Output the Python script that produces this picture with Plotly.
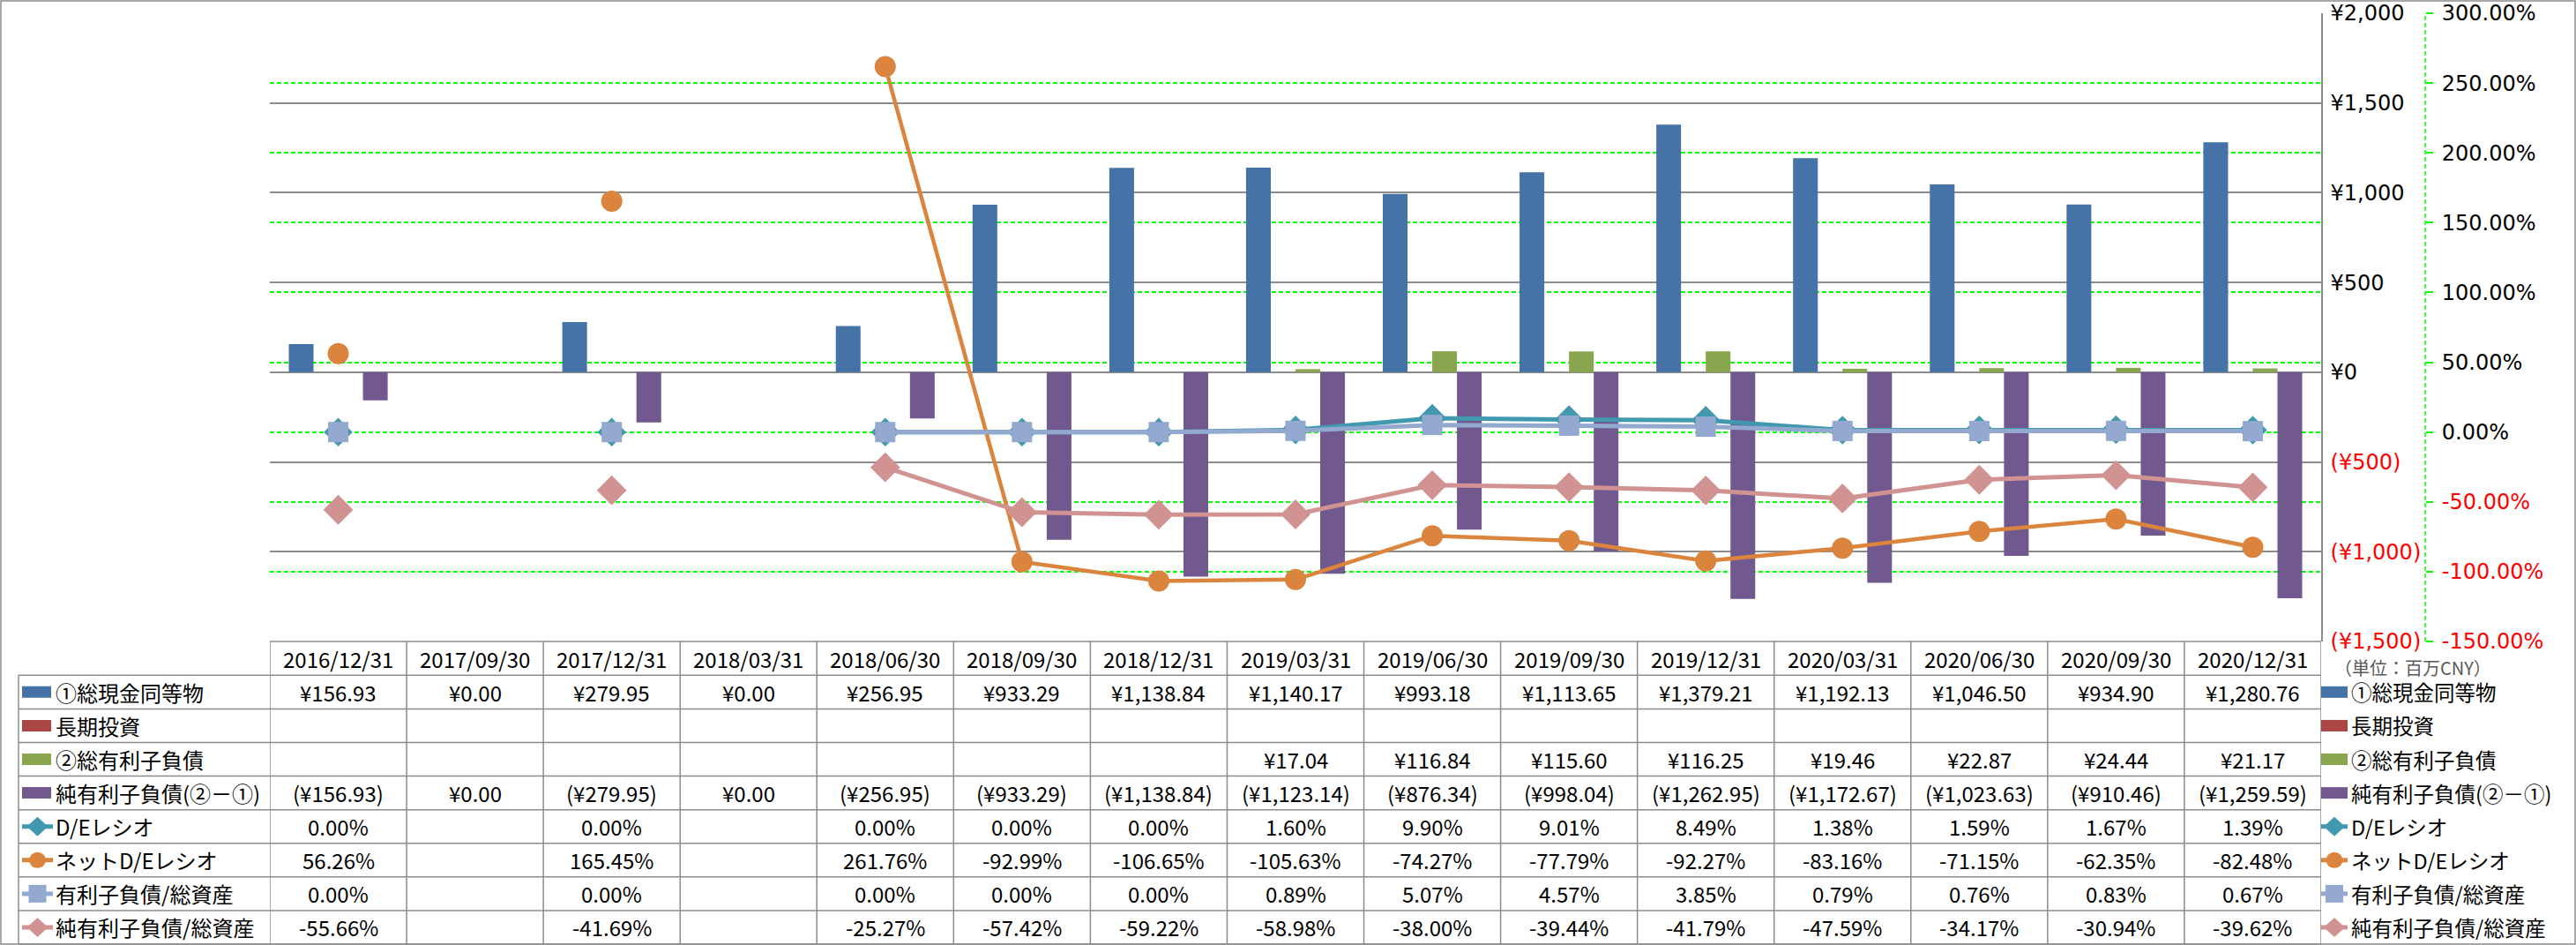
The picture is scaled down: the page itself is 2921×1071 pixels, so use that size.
import plotly.graph_objects as go

W, H = 2921, 1071

# ---------------- data ----------------
dates = ["2016/12/31", "2017/09/30", "2017/12/31", "2018/03/31", "2018/06/30",
         "2018/09/30", "2018/12/31", "2019/03/31", "2019/06/30", "2019/09/30",
         "2019/12/31", "2020/03/31", "2020/06/30", "2020/09/30", "2020/12/31"]

cash = [156.93, 0.00, 279.95, 0.00, 256.95, 933.29, 1138.84, 1140.17, 993.18,
        1113.65, 1379.21, 1192.13, 1046.50, 934.90, 1280.76]
long_invest = [None] * 15
debt = [None, None, None, None, None, None, None, 17.04, 116.84, 115.60, 116.25,
        19.46, 22.87, 24.44, 21.17]
net_debt = [-156.93, 0.00, -279.95, 0.00, -256.95, -933.29, -1138.84, -1123.14,
            -876.34, -998.04, -1262.95, -1172.67, -1023.63, -910.46, -1259.59]

de_ratio = [0.00, None, 0.00, None, 0.00, 0.00, 0.00, 1.60, 9.90, 9.01, 8.49,
            1.38, 1.59, 1.67, 1.39]
net_de_ratio = [56.26, None, 165.45, None, 261.76, -92.99, -106.65, -105.63,
                -74.27, -77.79, -92.27, -83.16, -71.15, -62.35, -82.48]
debt_to_assets = [0.00, None, 0.00, None, 0.00, 0.00, 0.00, 0.89, 5.07, 4.57,
                  3.85, 0.79, 0.76, 0.83, 0.67]
net_debt_to_assets = [-55.66, None, -41.69, None, -25.27, -57.42, -59.22, -58.98,
                      -38.00, -39.44, -41.79, -47.59, -34.17, -30.94, -39.62]

series_names = ["①総現金同等物", "長期投資", "②総有利子負債", "純有利子負債(②－①)",
                "D/Eレシオ", "ネットD/Eレシオ", "有利子負債/総資産", "純有利子負債/総資産"]

yen_ticks = [-1500, -1000, -500, 0, 500, 1000, 1500, 2000]
pct_ticks = [-150, -100, -50, 0, 50, 100, 150, 200, 250, 300]
unit_label = "（単位：百万CNY）"

# ---------------- style ----------------
C_CASH, C_LT, C_DEBT, C_NET = "#4572A7", "#AA4643", "#89A54E", "#71588F"
C_DE, C_NDE, C_DA, C_NDA = "#4198AF", "#DB843D", "#93A9CF", "#D19392"
GRAY = "#8C8C8C"
GREEN = "#00FF00"
RED = "#FF0000"
TFONT = dict(family="Noto Sans CJK JP", size=24, color="#000000")
LFONT = dict(family="Noto Sans CJK JP", size=23.5, color="#000000")
AFONT = dict(family="DejaVu Sans", size=24, color="#000000")

PX0, PX1 = 306, 2632      # plot area left/right (px)
PY0, PY1 = 15, 727        # plot area top/bottom (px)
AX2_X = 2750              # secondary axis position (px)
ROW0, ROWH = 765.3, 38.09  # table first row top, row height


def px(x):
    return x / W


def py(y):
    return 1 - y / H


def fmt_money(v):
    if v is None:
        return ""
    if v < 0:
        return f"(¥{abs(v):,.2f})"
    return f"¥{v:,.2f}"


def fmt_pct(v):
    if v is None:
        return ""
    return f"{v:.2f}%"


def yen_tick(v):
    if v < 0:
        return f'<span style="color:{RED}">(¥{abs(v):,})</span>'
    return f"¥{v:,}"


def pct_tick(v):
    t = f"{v:.2f}%"
    if v < 0:
        return f'<span style="color:{RED}">{t}</span>'
    return t


fig = go.Figure()

bar_specs = [(cash, C_CASH), (long_invest, C_LT), (debt, C_DEBT), (net_debt, C_NET)]
for (vals, col), name in zip(bar_specs, series_names[:4]):
    fig.add_trace(go.Bar(x=dates, y=vals, name=name, marker=dict(color=col, line=dict(width=0)),
                         yaxis="y"))

line_specs = [
    (de_ratio, C_DE, "diamond", 25, 5),
    (net_de_ratio, C_NDE, "circle", 24, 4.5),
    (debt_to_assets, C_DA, "square", 23, 5),
    (net_debt_to_assets, C_NDA, "diamond", 26, 5),
]
for (vals, col, sym, size, lw), name in zip(line_specs, series_names[4:]):
    fig.add_trace(go.Scatter(x=dates, y=vals, name=name, yaxis="y2", mode="lines+markers",
                             connectgaps=False, line=dict(color=col, width=lw),
                             marker=dict(symbol=sym, size=size, color=col, line=dict(width=0))))

shapes = []
annotations = []

# outer chart border
shapes.append(dict(type="rect", xref="paper", yref="paper", x0=px(1), x1=px(2920), y0=py(1), y1=py(1070),
                   line=dict(color=GRAY, width=1.5), fillcolor="rgba(0,0,0,0)", layer="below"))

# secondary axis line (dashed green)
shapes.append(dict(type="line", xref="paper", yref="y2", x0=px(AX2_X), x1=px(AX2_X),
                   y0=pct_ticks[0], y1=pct_ticks[-1], line=dict(color=GREEN, width=1.5, dash="5px,3px")))

# table grid
tbl_bottom = ROW0 + ROWH * len(series_names)
shapes.append(dict(type="line", xref="paper", yref="paper", x0=px(PX0), x1=px(PX1), y0=py(PY1), y1=py(PY1),
                   line=dict(color=GRAY, width=1.5)))
for r in range(len(series_names) + 1):
    yy = ROW0 + ROWH * r
    shapes.append(dict(type="line", xref="paper", yref="paper", x0=px(21), x1=px(PX1), y0=py(yy), y1=py(yy),
                       line=dict(color=GRAY, width=1.5)))
shapes.append(dict(type="line", xref="paper", yref="paper", x0=px(21), x1=px(21), y0=py(ROW0), y1=py(tbl_bottom),
                   line=dict(color=GRAY, width=1.5)))
for i in range(len(dates) + 1):
    shapes.append(dict(type="line", xref="x", yref="paper", x0=i - 0.5, x1=i - 0.5, y0=py(PY1), y1=py(tbl_bottom),
                       line=dict(color=GRAY, width=1.5)))

# header
for i, d in enumerate(dates):
    annotations.append(dict(xref="x", yref="paper", x=i, y=py((PY1 + ROW0) / 2), text=d, showarrow=False,
                            xanchor="center", yanchor="middle", font=TFONT))

# table body
rows_vals = [cash, long_invest, debt, net_debt, de_ratio, net_de_ratio, debt_to_assets, net_debt_to_assets]
for r, vals in enumerate(rows_vals):
    yc = ROW0 + ROWH * (r + 0.5)
    fmt = fmt_money if r < 4 else fmt_pct
    for i, v in enumerate(vals):
        t = fmt(v)
        if t:
            annotations.append(dict(xref="x", yref="paper", x=i, y=py(yc), text=t, showarrow=False,
                                    xanchor="center", yanchor="middle", font=TFONT))


# legend keys (left column and right side)
def add_key(r, x0, col, kind, sym=None, kw=33):
    yc = ROW0 + ROWH * (r + 0.5)
    if kind == "bar":
        shapes.append(dict(type="rect", xref="paper", yref="paper", x0=px(x0), x1=px(x0 + kw),
                           y0=py(yc - 6.5), y1=py(yc + 6.5), line=dict(width=0), fillcolor=col))
    else:
        shapes.append(dict(type="line", xref="paper", yref="paper", x0=px(x0), x1=px(x0 + kw),
                           y0=py(yc), y1=py(yc), line=dict(color=col, width=5)))
        cx = x0 + kw / 2
        if sym == "diamond":
            path = (f"M {px(cx)},{py(yc - 11)} L {px(cx + 12)},{py(yc)} "
                    f"L {px(cx)},{py(yc + 11)} L {px(cx - 12)},{py(yc)} Z")
            shapes.append(dict(type="path", xref="paper", yref="paper", path=path, fillcolor=col,
                               line=dict(width=0)))
        elif sym == "circle":
            shapes.append(dict(type="circle", xref="paper", yref="paper", x0=px(cx - 9.5), x1=px(cx + 9.5),
                               y0=py(yc - 9), y1=py(yc + 9), fillcolor=col, line=dict(width=0)))
        else:
            shapes.append(dict(type="rect", xref="paper", yref="paper", x0=px(cx - 10), x1=px(cx + 10),
                               y0=py(yc - 10), y1=py(yc + 10), fillcolor=col, line=dict(width=0)))


key_specs = [(C_CASH, "bar", None), (C_LT, "bar", None), (C_DEBT, "bar", None), (C_NET, "bar", None),
             (C_DE, "line", "diamond"), (C_NDE, "line", "circle"), (C_DA, "line", "square"),
             (C_NDA, "line", "diamond")]
for r, ((col, kind, sym), name) in enumerate(zip(key_specs, series_names)):
    yc = ROW0 + ROWH * (r + 0.5)
    add_key(r, 25, col, kind, sym, kw=33 if kind == "bar" else 35)
    add_key(r, 2632, col, kind, sym, kw=30)
    annotations.append(dict(xref="paper", yref="paper", x=px(61), y=py(yc), text=name, showarrow=False,
                            xanchor="left", yanchor="middle", font=TFONT))
    annotations.append(dict(xref="paper", yref="paper", x=px(2664), y=py(yc), text=name, showarrow=False,
                            xanchor="left", yanchor="middle", font=LFONT))

annotations.append(dict(xref="paper", yref="paper", x=px(2645), y=py(756), text=unit_label, showarrow=False,
                        xanchor="left", yanchor="middle",
                        font=dict(family="Noto Sans CJK JP", size=20, color="#595959")))

fig.update_layout(
    width=W, height=H,
    margin=dict(l=0, r=0, t=0, b=0, pad=0, autoexpand=False),
    paper_bgcolor="white", plot_bgcolor="white",
    showlegend=False,
    barmode="group", bargap=0.277, bargroupgap=0,
    xaxis=dict(type="category", domain=[px(PX0), px(PX1)], range=[-0.5, len(dates) - 0.5],
               showgrid=False, showticklabels=False, ticks="", showline=False, zeroline=False,
               automargin=False),
    yaxis=dict(domain=[py(PY1), py(PY0)], range=[yen_ticks[0], yen_ticks[-1]], side="right",
               tickmode="array", tickvals=yen_ticks, ticktext=[yen_tick(v) for v in yen_ticks],
               showgrid=True, gridcolor=GRAY, gridwidth=1.5,
               zeroline=True, zerolinecolor=GRAY, zerolinewidth=1.5,
               showline=True, linecolor=GRAY, linewidth=1.5, ticks="", ticklen=0,
               tickfont=AFONT, ticklabelstandoff=4, automargin=False),
    yaxis2=dict(overlaying="y", side="right", anchor="free", position=px(AX2_X),
                range=[pct_ticks[0], pct_ticks[-1]],
                tickmode="array", tickvals=pct_ticks, ticktext=[pct_tick(v) for v in pct_ticks],
                showgrid=True, gridcolor=GREEN, gridwidth=1.5, griddash="5px,3px",
                zeroline=False, showline=False,
                ticks="outside", ticklen=8, tickwidth=1.5, tickcolor=GREEN,
                tickfont=AFONT, ticklabelstandoff=5, automargin=False),
    shapes=shapes,
    annotations=annotations,
)

page_fix = (
    "document.documentElement.style.margin='0';document.documentElement.style.padding='0';"
    "document.documentElement.style.overflow='hidden';"
    "document.body.style.margin='0';document.body.style.padding='0';document.body.style.overflow='hidden';"
    "var gd=document.getElementById('{plot_id}');"
    "gd.style.position='fixed';gd.style.top='0px';gd.style.left='0px';"
)

fig.write_html("out.html", config={"displayModeBar": False}, post_script=page_fix)
